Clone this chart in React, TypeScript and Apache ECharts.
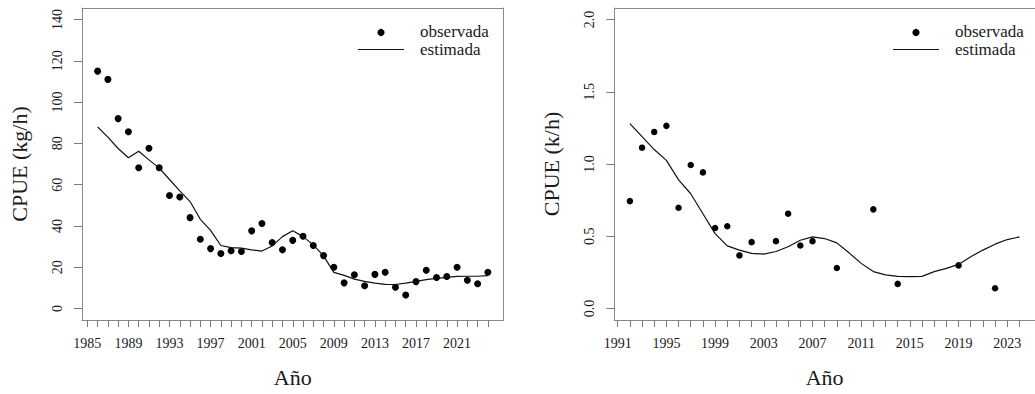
import React, { useEffect, useRef } from "react";
import * as echarts from "echarts";

// Panel A: CPUE (kg/h), 1986–2024
const yearsA = [
  1986, 1987, 1988, 1989, 1990, 1991, 1992, 1993, 1994, 1995, 1996, 1997, 1998,
  1999, 2000, 2001, 2002, 2003, 2004, 2005, 2006, 2007, 2008, 2009, 2010, 2011,
  2012, 2013, 2014, 2015, 2016, 2017, 2018, 2019, 2020, 2021, 2022, 2023, 2024,
];
const observedA = [
  115, 111, 92, 85.6, 68.2, 77.6, 68.2, 54.7, 54, 44, 33.5, 29, 26.6, 28, 27.6,
  37.6, 41.2, 32, 28.4, 33, 35, 30.5, 25.6, 20, 12.4, 16.3, 11, 16.5, 17.5,
  10.3, 6.5, 13, 18.5, 15, 15.5, 20, 13.7, 12, 17.5,
];
const estimatedA = [
  88, 83, 77.5, 73, 76.2, 72, 68, 62.5, 57, 51.8, 43.2, 37.8, 30.5, 29.5, 29.2,
  28.4, 27.8, 30.3, 34.8, 37.7, 34.8, 30.8, 25.5, 17.5, 16, 14.2, 13.1, 12.3,
  11.7, 11.6, 12.3, 13.1, 14, 14.6, 15.1, 15.5, 15.6, 15.6, 15.9,
];
const xTicksA = Array.from({ length: 40 }, (_, i) => 1985 + i);
const xLabelsA = [1985, 1989, 1993, 1997, 2001, 2005, 2009, 2013, 2017, 2021];
const yTicksA = [0, 20, 40, 60, 80, 100, 120, 140];

// Panel B: CPUE (k/h), 1992–2024 (observations only in surveyed years)
const obsYearsB = [
  1992, 1993, 1994, 1995, 1996, 1997, 1998, 1999, 2000, 2001, 2002, 2004, 2005,
  2006, 2007, 2009, 2012, 2014, 2019, 2022,
];
const observedB = [
  0.743, 1.113, 1.222, 1.264, 0.697, 0.993, 0.942, 0.557, 0.569, 0.367, 0.459,
  0.466, 0.656, 0.436, 0.466, 0.28, 0.686, 0.17, 0.298, 0.14,
];
const estYearsB = Array.from({ length: 33 }, (_, i) => 1992 + i);
const estimatedB = [
  1.28, 1.19, 1.1, 1.025, 0.89, 0.794, 0.656, 0.518, 0.433, 0.404, 0.381, 0.376,
  0.394, 0.427, 0.472, 0.495, 0.484, 0.454, 0.385, 0.312, 0.255, 0.232, 0.222,
  0.22, 0.222, 0.255, 0.277, 0.305, 0.358, 0.404, 0.445, 0.477, 0.495,
];
const xTicksB = Array.from({ length: 34 }, (_, i) => 1991 + i);
const xLabelsB = [1991, 1995, 1999, 2003, 2007, 2011, 2015, 2019, 2023];
const yTicksB = [0, 0.5, 1, 1.5, 2];

const FONT = "'Liberation Serif', 'Times New Roman', serif";
const BOX = "#8a8a8a";
const TICK = "#7a7a7a";
const TEXT = "#1a1a1a";

const boxLine = { show: true, onZero: false, lineStyle: { color: BOX, width: 1 } };

function xAxisFor(gridIndex: number, min: number, max: number, ticks: number[], labels: number[]) {
  return {
    type: "value",
    gridIndex,
    position: "bottom",
    min,
    max,
    axisLine: boxLine,
    splitLine: { show: false },
    axisTick: { show: true, length: 7, customValues: ticks, lineStyle: { color: TICK, width: 1 } },
    axisLabel: {
      show: true,
      customValues: labels,
      margin: 16,
      color: TEXT,
      fontFamily: FONT,
      fontSize: 14,
      formatter: (v: number) => String(Math.round(v)),
    },
    name: "Año",
    nameLocation: "middle",
    nameGap: 46,
    nameTextStyle: { fontFamily: FONT, fontSize: 22, color: TEXT },
  };
}

function yAxisFor(gridIndex: number, min: number, max: number, ticks: number[], name: string, digits: number) {
  return {
    type: "value",
    gridIndex,
    position: "left",
    min,
    max,
    axisLine: boxLine,
    splitLine: { show: false },
    axisTick: { show: true, length: 8, customValues: ticks, lineStyle: { color: TICK, width: 1 } },
    axisLabel: {
      show: true,
      customValues: ticks,
      rotate: 90,
      margin: 18,
      color: TEXT,
      fontFamily: FONT,
      fontSize: 14,
      formatter: (v: number) => v.toFixed(digits),
    },
    name,
    nameLocation: "middle",
    nameRotate: 90,
    nameGap: 52,
    nameTextStyle: { fontFamily: FONT, fontSize: 22, color: TEXT },
  };
}

// Plain edge axes that close the plot box on the top and right sides
function edgeAxis(gridIndex: number, position: string, min: number, max: number) {
  return {
    type: "value",
    gridIndex,
    position,
    min,
    max,
    axisLine: boxLine,
    axisTick: { show: false },
    axisLabel: { show: false },
    splitLine: { show: false },
  };
}

function legendAt(lineX0: number, lineX1: number, textX: number) {
  const dotX = (lineX0 + lineX1) / 2;
  return [
    { type: "circle", shape: { cx: dotX, cy: 32.5, r: 3.6 }, style: { fill: "#000" } },
    {
      type: "line",
      shape: { x1: lineX0, y1: 49.5, x2: lineX1, y2: 49.5 },
      style: { stroke: "#111", lineWidth: 1.2 },
    },
    {
      type: "text",
      x: textX,
      y: 31.5,
      style: { text: "observada", font: `17px ${FONT}`, fill: TEXT, textVerticalAlign: "middle" },
    },
    {
      type: "text",
      x: textX,
      y: 49.5,
      style: { text: "estimada", font: `17px ${FONT}`, fill: TEXT, textVerticalAlign: "middle" },
    },
  ];
}

export default function App() {
  const ref = useRef<HTMLDivElement>(null);

  useEffect(() => {
    if (!ref.current) return;
    const chart = echarts.init(ref.current, undefined, { renderer: "svg" });

    const option = {
      animation: false,
      backgroundColor: "#fff",
      textStyle: { fontFamily: FONT },
      grid: [
        { left: 82, top: 8, width: 421.5, height: 312 },
        { left: 614.3, top: 8, width: 423.1, height: 312 },
      ],
      xAxis: [
        xAxisFor(0, 1984.48, 2025.52, xTicksA, xLabelsA),
        xAxisFor(1, 1990.72, 2025.28, xTicksB, xLabelsB),
        edgeAxis(0, "top", 1984.48, 2025.52),
        edgeAxis(1, "top", 1990.72, 2025.28),
      ],
      yAxis: [
        yAxisFor(0, -5.6, 145.6, yTicksA, "CPUE (kg/h)", 0),
        yAxisFor(1, -0.08, 2.08, yTicksB, "CPUE (k/h)", 1),
        edgeAxis(0, "right", -5.6, 145.6),
        edgeAxis(1, "right", -0.08, 2.08),
      ],
      series: [
        {
          name: "observada",
          type: "scatter",
          xAxisIndex: 0,
          yAxisIndex: 0,
          symbol: "circle",
          symbolSize: 7,
          itemStyle: { color: "#000", opacity: 1 },
          data: yearsA.map((y, i) => [y, observedA[i]]),
        },
        {
          name: "estimada",
          type: "line",
          xAxisIndex: 0,
          yAxisIndex: 0,
          showSymbol: false,
          symbol: "none",
          lineStyle: { color: "#111", width: 1.2 },
          data: yearsA.map((y, i) => [y, estimatedA[i]]),
        },
        {
          name: "observada",
          type: "scatter",
          xAxisIndex: 1,
          yAxisIndex: 1,
          symbol: "circle",
          symbolSize: 6.5,
          itemStyle: { color: "#000", opacity: 1 },
          data: obsYearsB.map((y, i) => [y, observedB[i]]),
        },
        {
          name: "estimada",
          type: "line",
          xAxisIndex: 1,
          yAxisIndex: 1,
          showSymbol: false,
          symbol: "none",
          lineStyle: { color: "#111", width: 1.2 },
          data: estYearsB.map((y, i) => [y, estimatedB[i]]),
        },
      ],
      graphic: [...legendAt(358, 404, 420), ...legendAt(893, 939, 955)],
    };

    chart.setOption(option as any);
    return () => chart.dispose();
  }, []);

  return (
    <div
      ref={ref}
      style={{ position: "fixed", left: 0, top: 0, width: 1035, height: 394, background: "#fff" }}
    />
  );
}
